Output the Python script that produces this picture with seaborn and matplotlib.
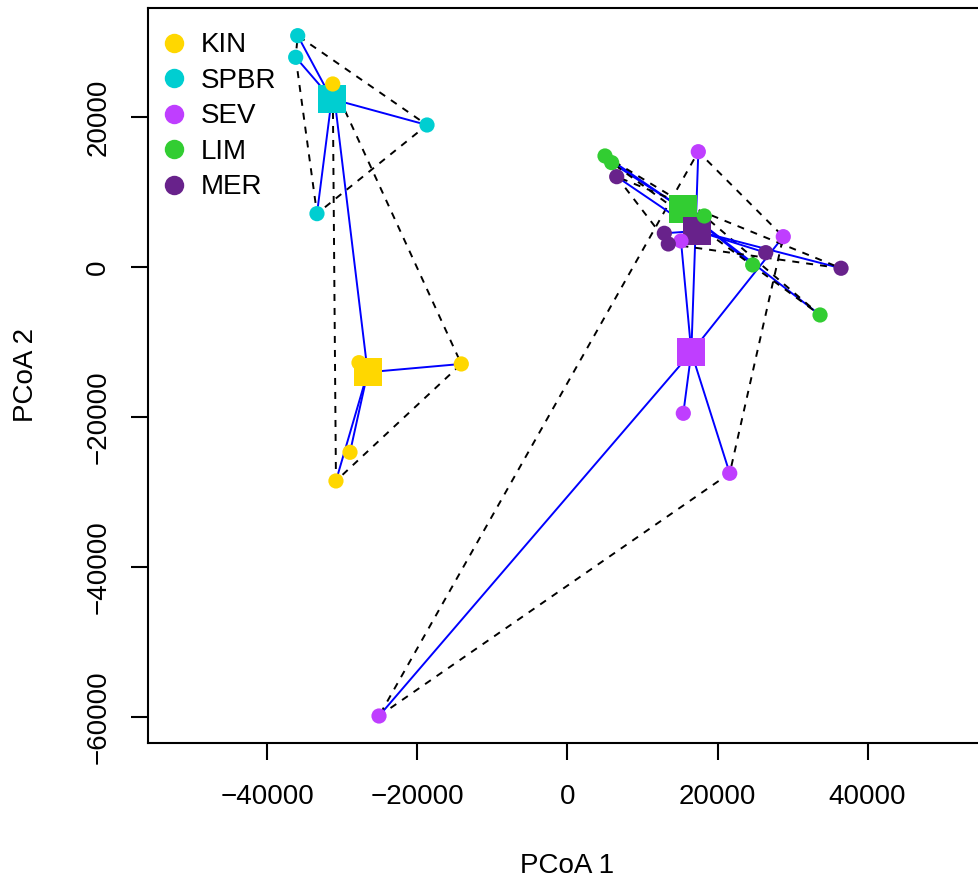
import numpy as np
import pandas as pd
import matplotlib
matplotlib.use("Agg")
import matplotlib.pyplot as plt
from matplotlib.lines import Line2D
import seaborn as sns

# Group levels and their colours
groups = ["KIN", "SPBR", "SEV", "LIM", "MER"]
group_colors = ["#FFD700", "#00CED1", "#BF3EFF", "#32CD32", "#68228B"]

# Site scores on the first two PCoA axes
kin_pc1 = [-31300, -27800, -14160, -29000, -30870]
kin_pc2 = [24400, -12760, -12930, -24710, -28530]

spbr_pc1 = [-35970, -36240, -18730, -33400]
spbr_pc2 = [30840, 27960, 18930, 7110]

sev_pc1 = [17440, 15130, 28770, 15440, 21630, -25130]
sev_pc2 = [15370, 3470, 4040, -19510, -27510, -59870]

lim_pc1 = [5000, 5890, 18240, 24690, 33670]
lim_pc2 = [14800, 13910, 6800, 270, -6400]

mer_pc1 = [6560, 12910, 13440, 26430, 36470]
mer_pc2 = [12040, 4490, 3070, 1910, -170]

# Group centroids
centroid_pc1 = [-26640, -31440, 16510, 15440, 17230]
centroid_pc2 = [-14040, 22400, -11370, 7690, 4800]

# Axis ticks
x_ticks = [-40000, -20000, 0, 20000, 40000]
y_ticks = [-60000, -40000, -20000, 0, 20000]

sites = pd.DataFrame({
    "PCoA 1": kin_pc1 + spbr_pc1 + sev_pc1 + lim_pc1 + mer_pc1,
    "PCoA 2": kin_pc2 + spbr_pc2 + sev_pc2 + lim_pc2 + mer_pc2,
    "group": (["KIN"] * len(kin_pc1) + ["SPBR"] * len(spbr_pc1) +
              ["SEV"] * len(sev_pc1) + ["LIM"] * len(lim_pc1) +
              ["MER"] * len(mer_pc1)),
})
centroids = pd.DataFrame({"PCoA 1": centroid_pc1, "PCoA 2": centroid_pc2,
                          "group": groups})
palette = dict(zip(groups, group_colors))


def convex_hull(points):
    """Monotone chain convex hull, returned as a closed ring."""
    pts = sorted(map(tuple, points))

    def cross(o, a, b):
        return (a[0] - o[0]) * (b[1] - o[1]) - (a[1] - o[1]) * (b[0] - o[0])

    lower, upper = [], []
    for p in pts:
        while len(lower) >= 2 and cross(lower[-2], lower[-1], p) <= 0:
            lower.pop()
        lower.append(p)
    for p in reversed(pts):
        while len(upper) >= 2 and cross(upper[-2], upper[-1], p) <= 0:
            upper.pop()
        upper.append(p)
    ring = lower[:-1] + upper[:-1]
    ring.append(ring[0])
    return np.array(ring)


sns.set_style("white")
plt.rcParams["font.family"] = ["Liberation Sans", "DejaVu Sans"]
plt.rcParams["text.color"] = "black"
plt.rcParams["axes.labelcolor"] = "black"
FS = 20

fig = plt.figure(figsize=(9.79, 8.81), dpi=100)
W, H = 979, 881
ax = fig.add_axes([148 / W, 138 / H, 839 / W, 735 / H])

# Per group: spokes to the centroid, dashed hull, centroid square
for g in groups:
    sub = sites[sites["group"] == g]
    cen = centroids[centroids["group"] == g].iloc[0]
    for _, row in sub.iterrows():
        ax.plot([row["PCoA 1"], cen["PCoA 1"]], [row["PCoA 2"], cen["PCoA 2"]],
                color="#0000FF", lw=1.4, zorder=2, solid_capstyle="butt")
    ring = convex_hull(sub[["PCoA 1", "PCoA 2"]].values)
    ax.plot(ring[:, 0], ring[:, 1], color="black", lw=1.4,
            dashes=(3.6, 3.6), zorder=2)
    sns.scatterplot(data=centroids[centroids["group"] == g], x="PCoA 1",
                    y="PCoA 2", hue="group", palette=palette, marker="s",
                    s=380, linewidth=0, legend=False, ax=ax, zorder=3)

# Site points on top
sns.scatterplot(data=sites, x="PCoA 1", y="PCoA 2", hue="group",
                palette=palette, s=120, linewidth=0, legend=False,
                ax=ax, zorder=4)

ax.set_xlim(-55930, 55930)
ax.set_ylim(-63470, 34530)
ax.set_xticks(x_ticks)
ax.set_yticks(y_ticks)
ax.set_xticklabels([f"{v}".replace("-", "\u2212") for v in x_ticks])
ax.set_yticklabels([f"{v}".replace("-", "\u2212") for v in y_ticks])
for lab in ax.get_yticklabels():
    lab.set_rotation(90)
    lab.set_va("center")
    lab.set_ha("right")

for s in ax.spines.values():
    s.set_visible(True)
    s.set_linewidth(1.5)
    s.set_color("black")
ax.tick_params(axis="both", which="major", direction="out", length=12.5,
               width=1.5, color="black", labelsize=FS, labelcolor="black",
               bottom=True, left=True)
ax.tick_params(axis="x", pad=17)
ax.tick_params(axis="y", pad=14)

ax.set_xlabel("PCoA 1", fontsize=FS, color="black")
ax.set_ylabel("PCoA 2", fontsize=FS, color="black")
ax.xaxis.set_label_coords(0.5, -0.150)
ax.yaxis.set_label_coords(-0.130, 0.5)

handles = [Line2D([], [], marker="o", ls="", color=c, markersize=14,
                  markeredgewidth=0) for c in group_colors]
leg = ax.legend(handles, groups, loc="upper left",
                bbox_to_anchor=(0, 1 - 10.6 / 735),
                frameon=False, fontsize=FS, handlelength=0.9,
                handletextpad=0.51, labelspacing=0.34, borderpad=0.5,
                borderaxespad=0.0)
for t in leg.get_texts():
    t.set_color("black")

fig.savefig("out.png", dpi=100)
